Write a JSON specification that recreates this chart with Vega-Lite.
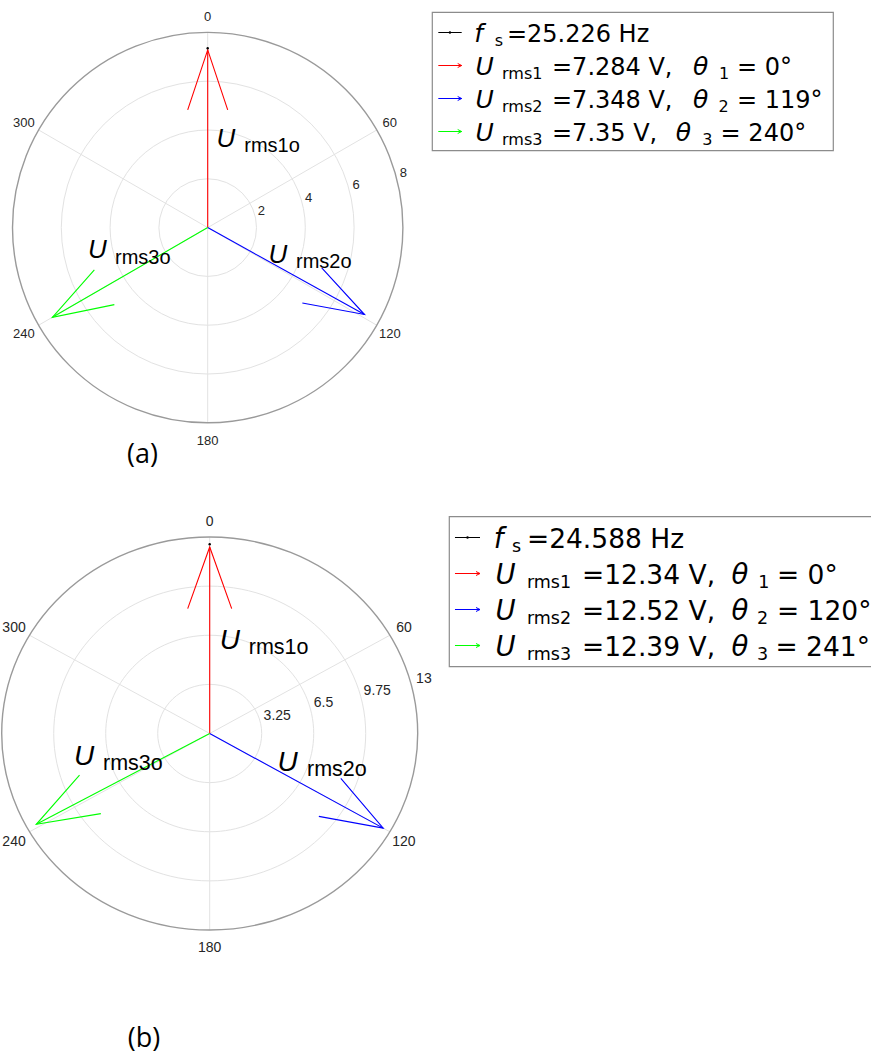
{
  "$schema": "https://vega.github.io/schema/vega-lite/v6.json",
  "width": 871,
  "height": 1054,
  "autosize": "none",
  "padding": 0,
  "background": "#ffffff",
  "config": {"view": {"stroke": null}},
  "datasets": {
    "ringsA": [{"r": 2}, {"r": 4}, {"r": 6}, {"r": 8}],
    "spokesA": [
      {"deg": 0, "x": 0, "y": 8, "xe": 0, "ye": -8},
      {"deg": 60, "x": 6.928, "y": 4, "xe": -6.928, "ye": -4},
      {"deg": 120, "x": 6.928, "y": -4, "xe": -6.928, "ye": 4}
    ],
    "phasorsA": [
      {"phase": "U1", "mag": 7.284, "deg": 0, "x": 0, "y": 7.284},
      {"phase": "U2", "mag": 7.348, "deg": 119, "x": 6.4267, "y": -3.5624},
      {"phase": "U3", "mag": 7.35, "deg": 240, "x": -6.3653, "y": -3.675}
    ],
    "fsA": [{"fs": 25.226, "x": 0, "y": 7.35}],
    "angA": [
      {"deg": 0, "x": 0, "y": 8.64},
      {"deg": 60, "x": 7.46, "y": 4.28},
      {"deg": 120, "x": 7.47, "y": -4.36},
      {"deg": 180, "x": 0, "y": -8.73},
      {"deg": 240, "x": -7.53, "y": -4.36},
      {"deg": 300, "x": -7.53, "y": 4.28}
    ],
    "radA": [
      {"r": 2, "x": 2.05, "y": 0.69},
      {"r": 4, "x": 3.99, "y": 1.2},
      {"r": 6, "x": 5.93, "y": 1.75},
      {"r": 8, "x": 7.87, "y": 2.23}
    ],
    "namesA": [
      {"kind": "sym", "t": "U", "x": 0.36, "y": 3.32},
      {"kind": "sub", "t": "rms1o", "x": 1.5, "y": 3.09},
      {"kind": "sym", "t": "U", "x": 2.49, "y": -1.46},
      {"kind": "sub", "t": "rms2o", "x": 3.62, "y": -1.67},
      {"kind": "sym", "t": "U", "x": -4.91, "y": -1.26},
      {"kind": "sub", "t": "rms3o", "x": -3.8, "y": -1.5}
    ],
    "capA": [{"t": "(a)", "x": -2.67, "y": -9.32}],
    "keysA": [{"row": 1, "item": "fs"}, {"row": 2, "item": "U1"}, {"row": 3, "item": "U2"}, {"row": 4, "item": "U3"}],
    "legA": [
      {"row": 1, "kind": "sym", "x": 10.45, "t": "f"},
      {"row": 1, "kind": "sub", "x": 15.6, "t": "s"},
      {"row": 1, "kind": "val", "x": 18.6, "t": "=25.226 Hz"},
      {"row": 2, "kind": "sym", "x": 10.8, "t": "U"},
      {"row": 2, "kind": "sub", "x": 17.4, "t": "rms1"},
      {"row": 2, "kind": "val", "x": 29.85, "t": "=7.284 V,"},
      {"row": 2, "kind": "sym", "x": 65.0, "t": "θ"},
      {"row": 2, "kind": "sub", "x": 71.5, "t": "1"},
      {"row": 2, "kind": "val", "x": 76.0, "t": "= 0°"},
      {"row": 3, "kind": "sym", "x": 10.8, "t": "U"},
      {"row": 3, "kind": "sub", "x": 17.4, "t": "rms2"},
      {"row": 3, "kind": "val", "x": 29.85, "t": "=7.348 V,"},
      {"row": 3, "kind": "sym", "x": 65.0, "t": "θ"},
      {"row": 3, "kind": "sub", "x": 71.4, "t": "2"},
      {"row": 3, "kind": "val", "x": 76.0, "t": "= 119°"},
      {"row": 4, "kind": "sym", "x": 10.8, "t": "U"},
      {"row": 4, "kind": "sub", "x": 17.4, "t": "rms3"},
      {"row": 4, "kind": "val", "x": 29.85, "t": "=7.35 V,"},
      {"row": 4, "kind": "sym", "x": 60.7, "t": "θ"},
      {"row": 4, "kind": "sub", "x": 67.3, "t": "3"},
      {"row": 4, "kind": "val", "x": 71.9, "t": "= 240°"}
    ],
    "ringsB": [{"r": 3.25}, {"r": 6.5}, {"r": 9.75}, {"r": 13}],
    "spokesB": [
      {"deg": 0, "x": 0, "y": 13, "xe": 0, "ye": -13},
      {"deg": 60, "x": 11.2583, "y": 6.5, "xe": -11.2583, "ye": -6.5},
      {"deg": 120, "x": 11.2583, "y": -6.5, "xe": -11.2583, "ye": 6.5}
    ],
    "phasorsB": [
      {"phase": "U1", "mag": 12.34, "deg": 0, "x": 0, "y": 12.34},
      {"phase": "U2", "mag": 12.52, "deg": 120, "x": 10.8427, "y": -6.26},
      {"phase": "U3", "mag": 12.39, "deg": 241, "x": -10.8365, "y": -6.0068}
    ],
    "fsB": [{"fs": 24.588, "x": 0, "y": 12.52}],
    "angB": [
      {"deg": 0, "x": 0, "y": 14.0},
      {"deg": 60, "x": 12.14, "y": 7.0},
      {"deg": 120, "x": 12.14, "y": -7.16},
      {"deg": 180, "x": 0, "y": -14.17},
      {"deg": 240, "x": -12.23, "y": -7.16},
      {"deg": 300, "x": -12.23, "y": 7.0}
    ],
    "radB": [
      {"r": 3.25, "x": 3.37, "y": 1.16},
      {"r": 6.5, "x": 6.5, "y": 2.0},
      {"r": 9.75, "x": 9.62, "y": 2.81},
      {"r": 13, "x": 12.9, "y": 3.61}
    ],
    "namesB": [
      {"kind": "sym", "t": "U", "x": 0.63, "y": 5.59},
      {"kind": "sub", "t": "rms1o", "x": 2.44, "y": 5.26},
      {"kind": "sym", "t": "U", "x": 4.23, "y": -2.46},
      {"kind": "sub", "t": "rms2o", "x": 6.08, "y": -2.81},
      {"kind": "sym", "t": "U", "x": -8.48, "y": -2.08},
      {"kind": "sub", "t": "rms3o", "x": -6.67, "y": -2.41}
    ],
    "capB": [{"t": "(b)", "x": -4.11, "y": -20.21}],
    "keysB": [{"row": 1, "item": "fs"}, {"row": 2, "item": "U1"}, {"row": 3, "item": "U2"}, {"row": 4, "item": "U3"}],
    "legB": [
      {"row": 1, "kind": "sym", "x": 10.25, "t": "f"},
      {"row": 1, "kind": "sub", "x": 14.45, "t": "s"},
      {"row": 1, "kind": "val", "x": 17.9, "t": "=24.588 Hz"},
      {"row": 2, "kind": "sym", "x": 10.65, "t": "U"},
      {"row": 2, "kind": "sub", "x": 17.9, "t": "rms1"},
      {"row": 2, "kind": "val", "x": 30.6, "t": "=12.34 V,"},
      {"row": 2, "kind": "sym", "x": 65.05, "t": "θ"},
      {"row": 2, "kind": "sub", "x": 71.25, "t": "1"},
      {"row": 2, "kind": "val", "x": 75.55, "t": "= 0°"},
      {"row": 3, "kind": "sym", "x": 10.65, "t": "U"},
      {"row": 3, "kind": "sub", "x": 17.9, "t": "rms2"},
      {"row": 3, "kind": "val", "x": 30.6, "t": "=12.52 V,"},
      {"row": 3, "kind": "sym", "x": 65.05, "t": "θ"},
      {"row": 3, "kind": "sub", "x": 70.95, "t": "2"},
      {"row": 3, "kind": "val", "x": 75.55, "t": "= 120°"},
      {"row": 4, "kind": "sym", "x": 10.65, "t": "U"},
      {"row": 4, "kind": "sub", "x": 17.9, "t": "rms3"},
      {"row": 4, "kind": "val", "x": 30.6, "t": "=12.39 V,"},
      {"row": 4, "kind": "sym", "x": 65.05, "t": "θ"},
      {"row": 4, "kind": "sub", "x": 70.95, "t": "3"},
      {"row": 4, "kind": "val", "x": 75.2, "t": "= 241°"}
    ]
  },
  "layer": [
    {
      "layer": [
        {
          "data": {"name": "ringsA"},
          "transform": [{"filter": "datum.r < 8"}],
          "mark": {"type": "point", "shape": "circle", "filled": false, "stroke": "#e2e2e2", "strokeWidth": 1, "opacity": 1},
          "encoding": {
            "x": {"datum": 0, "type": "quantitative", "scale": {"domain": [-8, 8], "range": [12.5, 402.9], "nice": false, "zero": false}, "axis": null},
            "y": {"datum": 0, "type": "quantitative", "scale": {"domain": [-8, 8], "range": [422.8, 32.4], "nice": false, "zero": false}, "axis": null},
            "size": {"field": "r", "type": "quantitative", "scale": {"type": "pow", "exponent": 2, "domain": [0, 8], "range": [0, 152413]}, "legend": null}
          }
        },
        {
          "data": {"name": "spokesA"},
          "mark": {"type": "rule", "stroke": "#e2e2e2", "strokeWidth": 1},
          "encoding": {
            "x": {"field": "x", "type": "quantitative", "axis": null},
            "y": {"field": "y", "type": "quantitative", "axis": null},
            "x2": {"field": "xe"},
            "y2": {"field": "ye"}
          }
        },
        {
          "data": {"name": "ringsA"},
          "transform": [{"filter": "datum.r == 8"}],
          "mark": {"type": "point", "shape": "circle", "filled": false, "stroke": "#9a9a9a", "strokeWidth": 1.4, "opacity": 1},
          "encoding": {
            "x": {"datum": 0, "type": "quantitative", "axis": null},
            "y": {"datum": 0, "type": "quantitative", "axis": null},
            "size": {"field": "r", "type": "quantitative", "legend": null}
          }
        },
        {
          "data": {"name": "angA"},
          "mark": {"type": "text", "font": "Liberation Sans", "fontSize": 13, "fill": "#262626", "align": "center", "baseline": "middle"},
          "encoding": {
            "x": {"field": "x", "type": "quantitative", "axis": null},
            "y": {"field": "y", "type": "quantitative", "axis": null},
            "text": {"field": "deg", "type": "nominal"}
          }
        },
        {
          "data": {"name": "radA"},
          "mark": {"type": "text", "font": "Liberation Sans", "fontSize": 13, "fill": "#262626", "align": "left", "baseline": "middle"},
          "encoding": {
            "x": {"field": "x", "type": "quantitative", "axis": null},
            "y": {"field": "y", "type": "quantitative", "axis": null},
            "text": {"field": "r", "type": "nominal"}
          }
        },
        {
          "data": {"name": "phasorsA"},
          "mark": {"type": "rule", "strokeWidth": 1.1},
          "encoding": {
            "x": {"field": "x", "type": "quantitative", "axis": null},
            "y": {"field": "y", "type": "quantitative", "axis": null},
            "x2": {"datum": 0},
            "y2": {"datum": 0},
            "color": {"field": "phase", "type": "nominal", "scale": {"domain": ["fs", "U1", "U2", "U3"], "range": ["#000000", "#ff0000", "#0000ff", "#00ff00"]}, "legend": null}
          }
        },
        {
          "data": {"name": "phasorsA"},
          "mark": {"type": "point", "shape": "M-0.3333,1L0,0L0.3333,1", "filled": false, "size": 14400, "strokeWidth": 1.1, "opacity": 1},
          "encoding": {
            "x": {"field": "x", "type": "quantitative", "axis": null},
            "y": {"field": "y", "type": "quantitative", "axis": null},
            "angle": {"field": "deg", "type": "quantitative", "scale": null},
            "color": {"field": "phase", "type": "nominal", "legend": null}
          }
        },
        {
          "data": {"name": "fsA"},
          "mark": {"type": "point", "shape": "circle", "filled": true, "color": "#000000", "size": 6, "opacity": 1},
          "encoding": {
            "x": {"field": "x", "type": "quantitative", "axis": null},
            "y": {"field": "y", "type": "quantitative", "axis": null}
          }
        },
        {
          "data": {"name": "namesA"},
          "transform": [{"filter": "datum.kind == 'sym'"}],
          "mark": {"type": "text", "font": "Liberation Sans", "fontStyle": "italic", "fontSize": 26, "fill": "#000000", "align": "left", "baseline": "alphabetic"},
          "encoding": {
            "x": {"field": "x", "type": "quantitative", "axis": null},
            "y": {"field": "y", "type": "quantitative", "axis": null},
            "text": {"field": "t", "type": "nominal"}
          }
        },
        {
          "data": {"name": "namesA"},
          "transform": [{"filter": "datum.kind == 'sub'"}],
          "mark": {"type": "text", "font": "Liberation Sans", "fontSize": 20, "fill": "#000000", "align": "left", "baseline": "alphabetic"},
          "encoding": {
            "x": {"field": "x", "type": "quantitative", "axis": null},
            "y": {"field": "y", "type": "quantitative", "axis": null},
            "text": {"field": "t", "type": "nominal"}
          }
        },
        {
          "data": {"name": "capA"},
          "mark": {"type": "text", "font": "Open Sans", "fontSize": 27, "fill": "#000000", "align": "center", "baseline": "middle"},
          "encoding": {
            "x": {"field": "x", "type": "quantitative", "axis": null},
            "y": {"field": "y", "type": "quantitative", "axis": null},
            "text": {"field": "t", "type": "nominal"}
          }
        }
      ]
    },
    {
      "layer": [
        {
          "data": {"name": "keysA"},
          "transform": [{"filter": "datum.row == 1"}],
          "mark": {"type": "rect", "fill": "#ffffff", "stroke": "#8c8c8c", "strokeWidth": 1.2},
          "encoding": {
            "x": {"datum": 0, "type": "quantitative", "scale": {"domain": [0, 100], "range": [432.3, 833.3], "nice": false, "zero": false}, "axis": null},
            "x2": {"datum": 100},
            "y": {"datum": 0.115, "type": "quantitative", "scale": {"domain": [1, 4], "range": [41.5, 140.5], "nice": false, "zero": false}, "axis": null},
            "y2": {"datum": 4.309}
          }
        },
        {
          "data": {"name": "keysA"},
          "mark": {"type": "rule", "strokeWidth": 1, "yOffset": -9},
          "encoding": {
            "x": {"datum": 1.5, "type": "quantitative", "axis": null},
            "x2": {"datum": 7.33},
            "y": {"field": "row", "type": "quantitative", "axis": null},
            "color": {"field": "item", "type": "nominal", "scale": {"domain": ["fs", "U1", "U2", "U3"], "range": ["#000000", "#ff0000", "#0000ff", "#00ff00"]}, "legend": null}
          }
        },
        {
          "data": {"name": "keysA"},
          "transform": [{"filter": "datum.row > 1"}],
          "mark": {"type": "point", "shape": "M-0.5,1L0,0L0.5,1", "filled": false, "size": 64, "angle": 90, "strokeWidth": 1, "opacity": 1, "yOffset": -9},
          "encoding": {
            "x": {"datum": 7.33, "type": "quantitative", "axis": null},
            "y": {"field": "row", "type": "quantitative", "axis": null},
            "color": {"field": "item", "type": "nominal", "legend": null}
          }
        },
        {
          "data": {"name": "keysA"},
          "transform": [{"filter": "datum.row == 1"}],
          "mark": {"type": "point", "shape": "circle", "filled": true, "color": "#000000", "size": 6, "opacity": 1, "yOffset": -9},
          "encoding": {
            "x": {"datum": 4.4, "type": "quantitative", "axis": null},
            "y": {"field": "row", "type": "quantitative", "axis": null}
          }
        },
        {
          "data": {"name": "legA"},
          "transform": [{"filter": "datum.kind == 'sym'"}],
          "mark": {"type": "text", "font": "DejaVu Sans", "fontStyle": "italic", "fontSize": 25, "fill": "#000000", "align": "left", "baseline": "alphabetic"},
          "encoding": {
            "x": {"field": "x", "type": "quantitative", "axis": null},
            "y": {"field": "row", "type": "quantitative", "axis": null},
            "text": {"field": "t", "type": "nominal"}
          }
        },
        {
          "data": {"name": "legA"},
          "transform": [{"filter": "datum.kind == 'sub'"}],
          "mark": {"type": "text", "font": "DejaVu Sans", "fontSize": 16, "fill": "#000000", "align": "left", "baseline": "alphabetic", "dy": 4},
          "encoding": {
            "x": {"field": "x", "type": "quantitative", "axis": null},
            "y": {"field": "row", "type": "quantitative", "axis": null},
            "text": {"field": "t", "type": "nominal"}
          }
        },
        {
          "data": {"name": "legA"},
          "transform": [{"filter": "datum.kind == 'val'"}],
          "mark": {"type": "text", "font": "DejaVu Sans", "fontSize": 24, "fill": "#000000", "align": "left", "baseline": "alphabetic"},
          "encoding": {
            "x": {"field": "x", "type": "quantitative", "axis": null},
            "y": {"field": "row", "type": "quantitative", "axis": null},
            "text": {"field": "t", "type": "nominal"}
          }
        }
      ]
    },
    {
      "layer": [
        {
          "data": {"name": "ringsB"},
          "transform": [{"filter": "datum.r < 13"}],
          "mark": {"type": "point", "shape": "M-1.0585,0A1.0585,1,0,1,0,1.0585,0A1.0585,1,0,1,0,-1.0585,0Z", "filled": false, "stroke": "#e2e2e2", "strokeWidth": 1, "opacity": 1},
          "encoding": {
            "x": {"datum": 0, "type": "quantitative", "scale": {"domain": [-13, 13], "range": [1.7, 417.7], "nice": false, "zero": false}, "axis": null},
            "y": {"datum": 0, "type": "quantitative", "scale": {"domain": [-13, 13], "range": [930, 537], "nice": false, "zero": false}, "axis": null},
            "size": {"field": "r", "type": "quantitative", "scale": {"type": "pow", "exponent": 2, "domain": [0, 13], "range": [0, 154449]}, "legend": null}
          }
        },
        {
          "data": {"name": "spokesB"},
          "mark": {"type": "rule", "stroke": "#e2e2e2", "strokeWidth": 1},
          "encoding": {
            "x": {"field": "x", "type": "quantitative", "axis": null},
            "y": {"field": "y", "type": "quantitative", "axis": null},
            "x2": {"field": "xe"},
            "y2": {"field": "ye"}
          }
        },
        {
          "data": {"name": "ringsB"},
          "transform": [{"filter": "datum.r == 13"}],
          "mark": {"type": "point", "shape": "M-1.0585,0A1.0585,1,0,1,0,1.0585,0A1.0585,1,0,1,0,-1.0585,0Z", "filled": false, "stroke": "#9a9a9a", "strokeWidth": 1.4, "opacity": 1},
          "encoding": {
            "x": {"datum": 0, "type": "quantitative", "axis": null},
            "y": {"datum": 0, "type": "quantitative", "axis": null},
            "size": {"field": "r", "type": "quantitative", "legend": null}
          }
        },
        {
          "data": {"name": "angB"},
          "mark": {"type": "text", "font": "Liberation Sans", "fontSize": 14, "fill": "#262626", "align": "center", "baseline": "middle"},
          "encoding": {
            "x": {"field": "x", "type": "quantitative", "axis": null},
            "y": {"field": "y", "type": "quantitative", "axis": null},
            "text": {"field": "deg", "type": "nominal"}
          }
        },
        {
          "data": {"name": "radB"},
          "mark": {"type": "text", "font": "Liberation Sans", "fontSize": 14, "fill": "#262626", "align": "left", "baseline": "middle"},
          "encoding": {
            "x": {"field": "x", "type": "quantitative", "axis": null},
            "y": {"field": "y", "type": "quantitative", "axis": null},
            "text": {"field": "r", "type": "nominal"}
          }
        },
        {
          "data": {"name": "phasorsB"},
          "mark": {"type": "rule", "strokeWidth": 1.1},
          "encoding": {
            "x": {"field": "x", "type": "quantitative", "axis": null},
            "y": {"field": "y", "type": "quantitative", "axis": null},
            "x2": {"datum": 0},
            "y2": {"datum": 0},
            "color": {"field": "phase", "type": "nominal", "scale": {"domain": ["fs", "U1", "U2", "U3"], "range": ["#000000", "#ff0000", "#0000ff", "#00ff00"]}, "legend": null}
          }
        },
        {
          "data": {"name": "phasorsB"},
          "mark": {"type": "point", "shape": "M-0.357,1L0,0L0.357,1", "filled": false, "size": 15178, "strokeWidth": 1.1, "opacity": 1},
          "encoding": {
            "x": {"field": "x", "type": "quantitative", "axis": null},
            "y": {"field": "y", "type": "quantitative", "axis": null},
            "angle": {"field": "deg", "type": "quantitative", "scale": null},
            "color": {"field": "phase", "type": "nominal", "legend": null}
          }
        },
        {
          "data": {"name": "fsB"},
          "mark": {"type": "point", "shape": "circle", "filled": true, "color": "#000000", "size": 6, "opacity": 1},
          "encoding": {
            "x": {"field": "x", "type": "quantitative", "axis": null},
            "y": {"field": "y", "type": "quantitative", "axis": null}
          }
        },
        {
          "data": {"name": "namesB"},
          "transform": [{"filter": "datum.kind == 'sym'"}],
          "mark": {"type": "text", "font": "Liberation Sans", "fontStyle": "italic", "fontSize": 28, "fill": "#000000", "align": "left", "baseline": "alphabetic"},
          "encoding": {
            "x": {"field": "x", "type": "quantitative", "axis": null},
            "y": {"field": "y", "type": "quantitative", "axis": null},
            "text": {"field": "t", "type": "nominal"}
          }
        },
        {
          "data": {"name": "namesB"},
          "transform": [{"filter": "datum.kind == 'sub'"}],
          "mark": {"type": "text", "font": "Liberation Sans", "fontSize": 21.5, "fill": "#000000", "align": "left", "baseline": "alphabetic"},
          "encoding": {
            "x": {"field": "x", "type": "quantitative", "axis": null},
            "y": {"field": "y", "type": "quantitative", "axis": null},
            "text": {"field": "t", "type": "nominal"}
          }
        },
        {
          "data": {"name": "capB"},
          "mark": {"type": "text", "font": "Open Sans", "fontSize": 27, "fill": "#000000", "align": "center", "baseline": "middle"},
          "encoding": {
            "x": {"field": "x", "type": "quantitative", "axis": null},
            "y": {"field": "y", "type": "quantitative", "axis": null},
            "text": {"field": "t", "type": "nominal"}
          }
        }
      ]
    },
    {
      "layer": [
        {
          "data": {"name": "keysB"},
          "transform": [{"filter": "datum.row == 1"}],
          "mark": {"type": "rect", "fill": "#ffffff", "stroke": "#8c8c8c", "strokeWidth": 1.2},
          "encoding": {
            "x": {"datum": 0, "type": "quantitative", "scale": {"domain": [0, 100], "range": [449.3, 883], "nice": false, "zero": false}, "axis": null},
            "x2": {"datum": 100},
            "y": {"datum": 0.144, "type": "quantitative", "scale": {"domain": [1, 4], "range": [547.5, 655.5], "nice": false, "zero": false}, "axis": null},
            "y2": {"datum": 4.311}
          }
        },
        {
          "data": {"name": "keysB"},
          "mark": {"type": "rule", "strokeWidth": 1, "yOffset": -10},
          "encoding": {
            "x": {"datum": 1.31, "type": "quantitative", "axis": null},
            "x2": {"datum": 7.08},
            "y": {"field": "row", "type": "quantitative", "axis": null},
            "color": {"field": "item", "type": "nominal", "scale": {"domain": ["fs", "U1", "U2", "U3"], "range": ["#000000", "#ff0000", "#0000ff", "#00ff00"]}, "legend": null}
          }
        },
        {
          "data": {"name": "keysB"},
          "transform": [{"filter": "datum.row > 1"}],
          "mark": {"type": "point", "shape": "M-0.5,1L0,0L0.5,1", "filled": false, "size": 64, "angle": 90, "strokeWidth": 1, "opacity": 1, "yOffset": -10},
          "encoding": {
            "x": {"datum": 7.08, "type": "quantitative", "axis": null},
            "y": {"field": "row", "type": "quantitative", "axis": null},
            "color": {"field": "item", "type": "nominal", "legend": null}
          }
        },
        {
          "data": {"name": "keysB"},
          "transform": [{"filter": "datum.row == 1"}],
          "mark": {"type": "point", "shape": "circle", "filled": true, "color": "#000000", "size": 6, "opacity": 1, "yOffset": -10},
          "encoding": {
            "x": {"datum": 4.2, "type": "quantitative", "axis": null},
            "y": {"field": "row", "type": "quantitative", "axis": null}
          }
        },
        {
          "data": {"name": "legB"},
          "transform": [{"filter": "datum.kind == 'sym'"}],
          "mark": {"type": "text", "font": "DejaVu Sans", "fontStyle": "italic", "fontSize": 27.5, "fill": "#000000", "align": "left", "baseline": "alphabetic"},
          "encoding": {
            "x": {"field": "x", "type": "quantitative", "axis": null},
            "y": {"field": "row", "type": "quantitative", "axis": null},
            "text": {"field": "t", "type": "nominal"}
          }
        },
        {
          "data": {"name": "legB"},
          "transform": [{"filter": "datum.kind == 'sub'"}],
          "mark": {"type": "text", "font": "DejaVu Sans", "fontSize": 17.5, "fill": "#000000", "align": "left", "baseline": "alphabetic", "dy": 4.5},
          "encoding": {
            "x": {"field": "x", "type": "quantitative", "axis": null},
            "y": {"field": "row", "type": "quantitative", "axis": null},
            "text": {"field": "t", "type": "nominal"}
          }
        },
        {
          "data": {"name": "legB"},
          "transform": [{"filter": "datum.kind == 'val'"}],
          "mark": {"type": "text", "font": "DejaVu Sans", "fontSize": 26.5, "fill": "#000000", "align": "left", "baseline": "alphabetic"},
          "encoding": {
            "x": {"field": "x", "type": "quantitative", "axis": null},
            "y": {"field": "row", "type": "quantitative", "axis": null},
            "text": {"field": "t", "type": "nominal"}
          }
        }
      ]
    }
  ],
  "resolve": {"scale": {"x": "independent", "y": "independent", "size": "independent", "color": "independent"}}
}
